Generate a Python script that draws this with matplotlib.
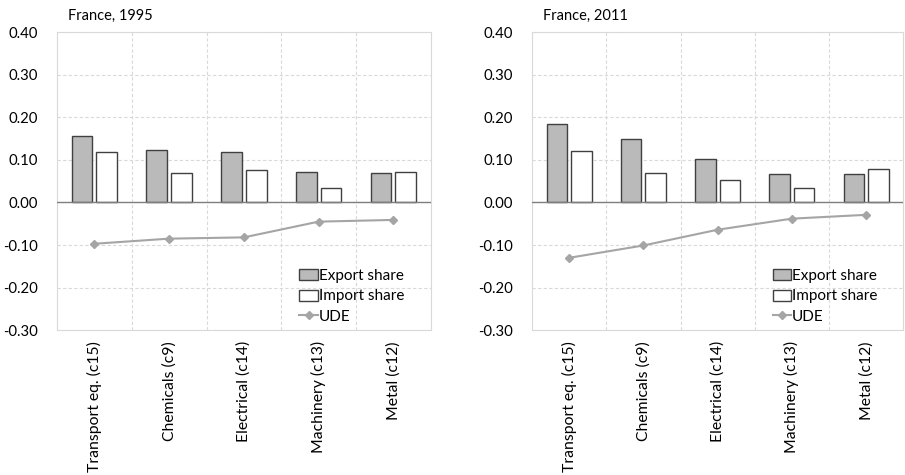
import numpy as np
import matplotlib
matplotlib.use("Agg")
import matplotlib.pyplot as plt

plt.rcParams['font.family'] = ['Lato', 'DejaVu Sans']

# Data
sectors = ["Transport eq. (c15)", "Chemicals (c9)", "Electrical (c14)", "Machinery (c13)", "Metal (c12)"]
titles = ["France, 1995", "France, 2011"]
export_1995 = [0.157, 0.123, 0.118, 0.071, 0.070]
import_1995 = [0.118, 0.070, 0.076, 0.035, 0.071]
ude_1995 = [-0.097, -0.085, -0.082, -0.045, -0.041]
export_2011 = [0.184, 0.149, 0.102, 0.068, 0.066]
import_2011 = [0.121, 0.070, 0.053, 0.034, 0.078]
ude_2011 = [-0.130, -0.101, -0.064, -0.038, -0.029]
yticks = [0.40, 0.30, 0.20, 0.10, 0.00, -0.10, -0.20, -0.30]

grid_col = "#D9D9D9"


def draw_panel(ax, title, exp, imp, ude):
    x = np.arange(len(sectors))
    w = 0.277
    b1 = ax.bar(x - 0.165, exp, width=w, color="#BABABA", edgecolor="#404040", linewidth=1.0,
                label="Export share", zorder=3)
    b2 = ax.bar(x + 0.165, imp, width=w, color="white", edgecolor="#404040", linewidth=1.0,
                label="Import share", zorder=3)
    l1, = ax.plot(x, ude, color="#A5A5A5", marker="D", markersize=4, linewidth=1.5,
                  label="UDE", zorder=4)
    ax.axhline(0, color="#7F7F7F", linewidth=1.0, zorder=3)

    ax.set_xlim(-0.5, len(sectors) - 0.5)
    ax.set_ylim(-0.30, 0.40)
    ax.set_yticks(yticks)
    ax.set_yticklabels(["%.2f" % v for v in yticks])
    ax.set_xticks(x)
    ax.set_xticklabels(sectors, rotation=90)
    ax.tick_params(axis="both", length=0, colors="black")
    ax.tick_params(axis="x", pad=8, labelsize=11.3)
    ax.tick_params(axis="y", pad=14, labelsize=10.7)

    for v in yticks:
        ax.axhline(v, color=grid_col, linestyle=(0, (3, 2)), linewidth=0.8, zorder=1)
    for b in np.arange(0.5, len(sectors) - 0.5, 1.0):
        ax.axvline(b, color=grid_col, linestyle=(0, (3, 2)), linewidth=0.8, zorder=1)
    for s in ax.spines.values():
        s.set_color(grid_col)
        s.set_linewidth(0.8)

    ax.text(0.03, 1.03, title, transform=ax.transAxes, fontsize=10.5, ha="left", va="bottom")
    ax.legend([b1, b2, l1], ["Export share", "Import share", "UDE"],
              loc="lower left", bbox_to_anchor=(0.62, -0.015), frameon=False, fontsize=11,
              handlelength=1.2, handleheight=0.75, handletextpad=0.05, labelspacing=0.42,
              borderpad=0.2)


fig = plt.figure(figsize=(9.05, 4.75), dpi=100)
ax1 = fig.add_axes([0.063, 0.305, 0.413, 0.627])
ax2 = fig.add_axes([0.588, 0.305, 0.410, 0.627])
draw_panel(ax1, titles[0], export_1995, import_1995, ude_1995)
draw_panel(ax2, titles[1], export_2011, import_2011, ude_2011)

fig.savefig("out.png", dpi=100)
